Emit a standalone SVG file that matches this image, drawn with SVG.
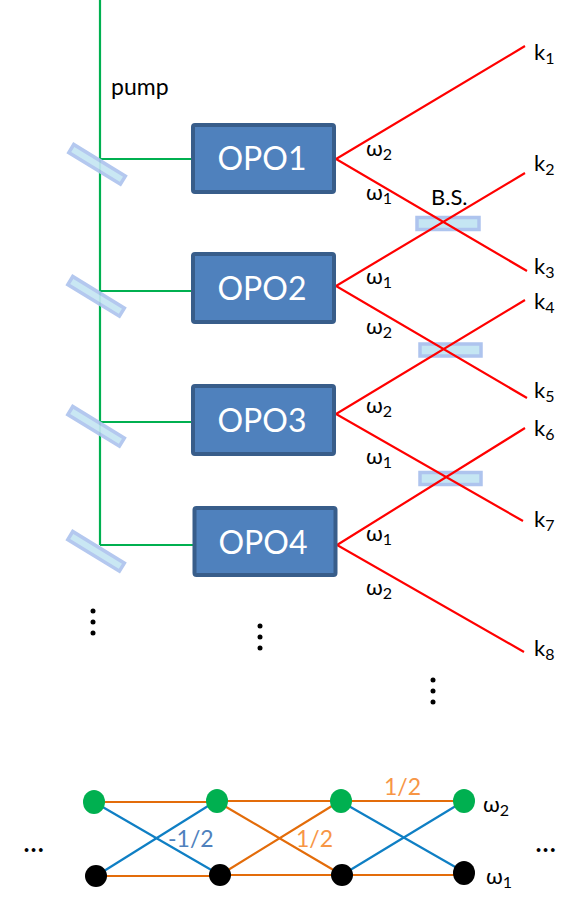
<svg xmlns="http://www.w3.org/2000/svg" width="583" height="906" viewBox="0 0 583 906">
<style>
text{font-family:Lato,"Liberation Sans",sans-serif;fill:#000}
.box{fill:#4f81bd;stroke:#385d8a;stroke-width:4}
.opo{font-size:32px;fill:#fff;text-anchor:middle}
.m{fill:#c5e6f3;stroke:#aec4ee;stroke-width:3.5}
.pm{opacity:.92}
.g{stroke:#00b050;stroke-width:2.2;fill:none}
.r{stroke:#ff0000;stroke-width:2.2;fill:none}
.o{stroke:#e36c0a;stroke-width:2.2;fill:none}
.b{stroke:#0f7fc4;stroke-width:2.2;fill:none}
.l{font-size:22px}
.s{font-size:16px}
.n{font-size:23px}
.bl{fill:#4f81bd}
.or{fill:#f79646}
.d{font-size:30px}
.gn{fill:#00b050}
.bn{fill:#000}
</style>
<g id="connectors">
<path class="g" d="M100 0V545M100 159H191M100 291H191M100 422H191M100 545H193"/>
</g>
<g id="mirrors">
<rect class="m pm" x="-30" y="-4.500" width="60.500" height="9.500" transform="translate(97 164) rotate(31.5)"/>
<rect class="m pm" x="-30" y="-4.500" width="60.500" height="9.500" transform="translate(96 296) rotate(31.5)"/>
<rect class="m pm" x="-30" y="-4.500" width="60.500" height="9.500" transform="translate(96 426) rotate(31.5)"/>
<rect class="m pm" x="-30" y="-4.500" width="60.500" height="9.500" transform="translate(96 551) rotate(31.5)"/>
<rect class="m" x="417" y="217.500" width="62" height="12"/>
<rect class="m" x="420" y="344" width="61" height="12"/>
<rect class="m" x="420" y="472.500" width="61" height="12"/>
</g>
<g id="connectors2">
<path class="r" d="M525 46L336 159L527 271M525 173L336 286L527 398M525 300L336 414L523 521M525 428L337 545L524 652"/>
<path class="o" d="M94 802H216M216 801H340M340 801H464M96 876H220M220 875H342M342 875H464M216 801L342 875M220 875L340 801"/>
<path class="b" d="M94 802L220 875M96 876L216 801M340 801L464 872M342 875L464 801"/>
</g>
<g id="opo1"><rect class="box" x="193" y="125" width="141" height="67" rx="2"/><text class="opo" x="262" y="170">OPO1</text></g>
<g id="opo2"><rect class="box" x="193" y="254" width="141" height="68" rx="2"/><text class="opo" x="262" y="300">OPO2</text></g>
<g id="opo3"><rect class="box" x="193" y="386" width="141" height="68" rx="2"/><text class="opo" x="262" y="432">OPO3</text></g>
<g id="opo4"><rect class="box" x="194.500" y="508" width="141" height="67" rx="2"/><text class="opo" x="263" y="554">OPO4</text></g>
<g id="labels">
<text class="n" x="111" y="95">pump</text>
<text class="l" x="431" y="205">B.S.</text>
<text class="l" x="366" y="156">ω<tspan class="s" dy="4">2</tspan></text>
<text class="l" x="366" y="200">ω<tspan class="s" dy="4">1</tspan></text>
<text class="l" x="366" y="284">ω<tspan class="s" dy="4">1</tspan></text>
<text class="l" x="366" y="334">ω<tspan class="s" dy="4">2</tspan></text>
<text class="l" x="366" y="413">ω<tspan class="s" dy="4">2</tspan></text>
<text class="l" x="366" y="464">ω<tspan class="s" dy="4">1</tspan></text>
<text class="l" x="366" y="541">ω<tspan class="s" dy="4">1</tspan></text>
<text class="l" x="366" y="595">ω<tspan class="s" dy="4">2</tspan></text>
<text class="l" x="534" y="60">k<tspan class="s" dy="4">1</tspan></text>
<text class="l" x="534" y="171">k<tspan class="s" dy="4">2</tspan></text>
<text class="l" x="534" y="274">k<tspan class="s" dy="4">3</tspan></text>
<text class="l" x="534" y="309">k<tspan class="s" dy="4">4</tspan></text>
<text class="l" x="534" y="398">k<tspan class="s" dy="4">5</tspan></text>
<text class="l" x="534" y="436">k<tspan class="s" dy="4">6</tspan></text>
<text class="l" x="534" y="527">k<tspan class="s" dy="4">7</tspan></text>
<text class="l" x="534" y="656">k<tspan class="s" dy="4">8</tspan></text>
<text class="n bl" x="168" y="847">-1/2</text>
<text class="n or" x="296" y="847">1/2</text>
<text class="n or" x="384" y="795">1/2</text>
<text class="l" x="483" y="812">ω<tspan class="s" dy="4">2</tspan></text>
<text class="l" x="486" y="884">ω<tspan class="s" dy="4">1</tspan></text>
<text class="d" x="23" y="852">...</text>
<text class="d" x="535" y="852">...</text>
</g>
<g id="vdots1"><circle cx="93" cy="611" r="2.500"/><circle cx="93" cy="622" r="2.500"/><circle cx="93" cy="633" r="2.500"/></g>
<g id="vdots2"><circle cx="260" cy="626" r="2.500"/><circle cx="260" cy="637" r="2.500"/><circle cx="260" cy="648" r="2.500"/></g>
<g id="vdots3"><circle cx="433" cy="680" r="2.500"/><circle cx="433" cy="691" r="2.500"/><circle cx="433" cy="702" r="2.500"/></g>
<g id="g1"><ellipse class="gn" cx="94" cy="802" rx="11" ry="12"/></g>
<g id="g2"><ellipse class="gn" cx="217" cy="801" rx="11" ry="12"/></g>
<g id="g3"><ellipse class="gn" cx="341" cy="801" rx="11" ry="12"/></g>
<g id="g4"><ellipse class="gn" cx="464" cy="801" rx="11" ry="12"/></g>
<g id="b1"><ellipse class="bn" cx="96" cy="876" rx="11" ry="11"/></g>
<g id="b2"><ellipse class="bn" cx="220" cy="875" rx="11" ry="11"/></g>
<g id="b3"><ellipse class="bn" cx="342" cy="875" rx="11" ry="11"/></g>
<g id="b4"><ellipse class="bn" cx="464" cy="873" rx="11" ry="12"/></g>
</svg>
